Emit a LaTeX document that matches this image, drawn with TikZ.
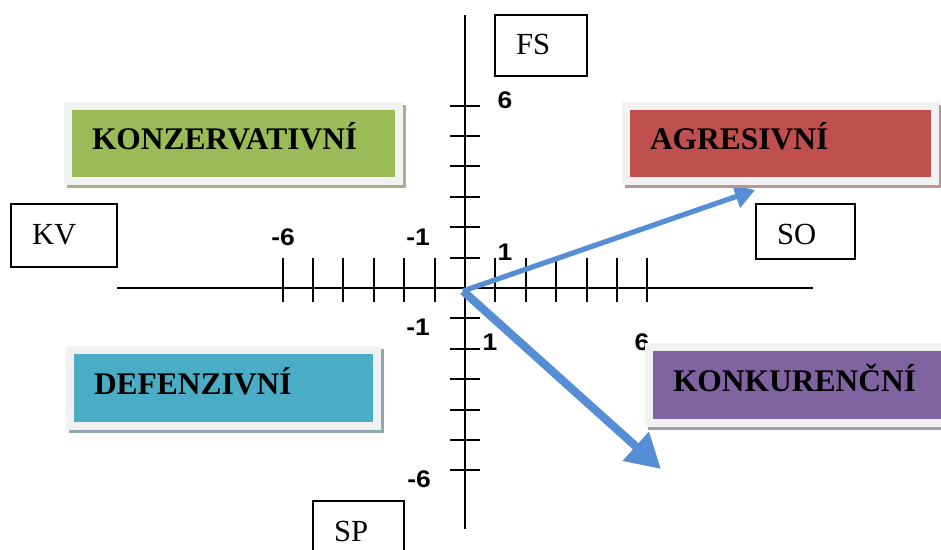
\documentclass[tikz,border=0pt]{standalone}
\usepackage{fontspec}
\setmainfont{Liberation Serif}
\newfontfamily\numfont[FakeStretch=1.1]{Liberation Sans}
\usetikzlibrary{arrows.meta}

\definecolor{kgreen}{HTML}{9BBB59}
\definecolor{kgreensh}{HTML}{A6B08C}
\definecolor{kred}{HTML}{C0504D}
\definecolor{kredsh}{HTML}{B99696}
\definecolor{kblue}{HTML}{4BACC6}
\definecolor{kbluesh}{HTML}{8EA8B4}
\definecolor{kpurple}{HTML}{8064A2}
\definecolor{kpurplesh}{HTML}{A49CAE}
\definecolor{framegray}{HTML}{F2F2F2}
\definecolor{vecblue}{HTML}{558ED5}

\begin{document}
\begin{tikzpicture}[x=0.75pt,y=-0.75pt,
  axis/.style={line width=1.5pt},
  tick/.style={line width=1.5pt},
  num/.style={font=\numfont\bfseries\fontsize{18pt}{20pt}\selectfont, inner sep=0pt},
  tag/.style={draw, line width=1.1pt, inner xsep=15.75pt, inner ysep=0pt,
    text height=30pt, align=left, font=\fontsize{23pt}{26pt}\selectfont},
  quad/.style 2 args={fill=#1, draw=framegray, line width=6pt,
    preaction={draw=#2, fill=#2, line width=6pt,
      transform canvas={xshift=2.25pt, yshift=-2.25pt}},
    inner xsep=18pt, inner ysep=0pt, text height=16.5pt, text depth=7.5pt,
    align=left, font=\bfseries\fontsize{23.6pt}{28pt}\selectfont},
  vec/.style={draw=vecblue}
]
\clip (0,0) rectangle (941,549);

% coordinate axes with ticks
\draw[axis] (117,288) -- (813,288);
\draw[axis] (465,15) -- (465,529);
\foreach \k in {-6,...,-1,1,2,...,6} {
  \draw[tick] ({465+30.4*\k},258) -- ++(0,44);
  \draw[tick] (450,{288+30.4*\k}) -- ++(30,0);
}

% scale numbers
\node[num] (ny6) at (505,100) {6};
\node[num] (nxm6) at (283,237) {-6};
\node[num] (nxm1) at (418,237) {-1};
\node[num] (ny1) at (505,252) {1};
\node[num] (nym1) at (418,327) {-1};
\node[num] (nx1) at (490,342) {1};
\node[num] (nx6) at (642,342) {6};
\node[num] (nym6) at (419,479) {-6};

% strategy vectors
\coordinate (O) at (463,291);
\coordinate (tipA) at (755,190);
\coordinate (tipK) at (661,469);
\draw[vec, line width=3.9pt, -{Triangle[length=15pt,width=17.25pt]}] (O) -- (tipA);
\draw[vec, line width=6.2pt, -{Triangle[length=25.5pt,width=27.75pt]}] (O) -- (tipK);

% strategy quadrants
\node[quad={kgreen}{kgreensh}, minimum height=56.25pt, text width=212.25pt]
  (kons) at (233.5,143.5) {KONZERVATIVNÍ};
\node[quad={kred}{kredsh}, minimum height=56.25pt, text width=195.75pt]
  (agr) at (780.5,143.5) {AGRESIVNÍ};
\node[quad={kblue}{kbluesh}, minimum height=57pt, text width=194.25pt]
  (def) at (223.5,388) {DEFENZIVNÍ};
\node[quad={kpurple}{kpurplesh}, minimum height=57pt, text width=201pt]
  (konk) at (807,385) {KONKURENČNÍ};

% axis name boxes
\node[tag, text width=37.5pt, text depth=15.75pt] (fs) at (541,45.5) {FS};
\node[tag, text width=48pt, text depth=17.25pt] (kv) at (64,235.5) {KV};
\node[tag, text width=42.75pt, text depth=11.25pt] (so) at (805.5,231.5) {SO};
\node[tag, text width=36.75pt, text depth=22.5pt] (sp) at (358.5,536) {SP};
\end{tikzpicture}
\end{document}
